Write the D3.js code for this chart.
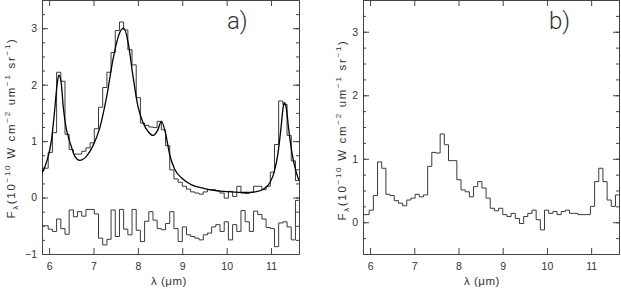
<!DOCTYPE html>
<html>
<head>
<meta charset="utf-8">
<script src="https://cdn.jsdelivr.net/npm/d3@7"></script>
<style>
  html, body { margin: 0; padding: 0; background: #fff; }
  svg { display: block; }
</style>
</head>
<body>
<div id="chart-container"></div>
<script>
// bin centres of the spectrum (micron)
const wavelength = [
  5.933, 6.027, 6.122, 6.216, 6.311, 6.405, 6.499, 6.594, 6.688, 6.783,
  6.877, 6.971, 7.066, 7.160, 7.255, 7.349, 7.443, 7.538, 7.632, 7.727,
  7.821, 7.915, 8.010, 8.104, 8.199, 8.293, 8.387, 8.482, 8.576, 8.671,
  8.765, 8.859, 8.954, 9.048, 9.143, 9.237, 9.331, 9.426, 9.520, 9.615,
  9.709, 9.803, 9.898, 9.992, 10.087, 10.181, 10.275, 10.370, 10.464, 10.559,
  10.653, 10.747, 10.842, 10.936, 11.031, 11.125, 11.219, 11.314, 11.408, 11.503,
  11.597,
];

// panel a: observed spectrum
const fluxA = [
  0.52, 0.80, 1.15, 2.22, 2.06, 1.12, 0.85, 0.77, 0.77, 0.82,
  0.88, 0.97, 1.22, 1.60, 1.95, 2.22, 2.57, 2.96, 3.11, 2.97,
  2.62, 2.35, 1.77, 1.32, 1.28, 1.25, 1.24, 1.35, 1.20, 0.92,
  0.49, 0.33, 0.27, 0.20, 0.15, 0.10, 0.08, 0.06, 0.10, 0.14,
  0.14, 0.12, 0.08, -0.01, 0.11, 0.02, 0.20, 0.08, 0.07, 0.09,
  0.20, 0.20, 0.14, 0.20, 0.45, 0.94, 1.71, 1.65, 1.10, 0.65,
  0.30,
];

// panel a: residuals (shifted below zero)
const residualA = [
  -0.50, -0.56, -0.60, -0.38, -0.55, -0.65, -0.22, -0.34, -0.25, -0.33,
  -0.21, -0.21, -0.29, -0.72, -0.84, -0.74, -0.22, -0.69, -0.21, -0.56,
  -0.66, -0.21, -0.58, -0.78, -0.42, -0.25, -0.40, -0.55, -0.57, -0.46,
  -0.25, -0.55, -0.78, -0.52, -0.66, -0.69, -0.72, -0.75, -0.66, -0.63,
  -0.52, -0.48, -0.60, -0.43, -0.75, -0.48, -0.60, -0.23, -0.43, -0.60,
  -0.24, -0.30, -0.38, -0.53, -0.55, -0.87, -0.45, -0.43, -0.52, -0.75,
  -0.05,
];

// panel a: fitted model
const modelWavelength = [
  5.84, 5.95, 6.05, 6.12, 6.18, 6.22, 6.27, 6.32, 6.38, 6.45,
  6.51, 6.58, 6.69, 6.84, 6.99, 7.14, 7.30, 7.44, 7.59, 7.68,
  7.78, 7.89, 8.00, 8.12, 8.23, 8.34, 8.45, 8.53, 8.62, 8.72,
  8.83, 8.98, 9.20, 9.50, 9.80, 10.10, 10.40, 10.65, 10.85, 10.98,
  11.07, 11.15, 11.22, 11.27, 11.30, 11.34, 11.40, 11.47, 11.55, 11.63,
];
const modelFluxA = [
  0.43, 0.65, 1.00, 1.50, 2.00, 2.17, 2.05, 1.60, 1.25, 1.03,
  0.88, 0.73, 0.66, 0.73, 0.92, 1.23, 1.80, 2.45, 2.92, 3.00,
  2.75, 2.15, 1.62, 1.32, 1.17, 1.10, 1.20, 1.35, 1.15, 0.75,
  0.50, 0.35, 0.23, 0.16, 0.12, 0.10, 0.09, 0.10, 0.16, 0.27,
  0.45, 0.75, 1.20, 1.58, 1.68, 1.60, 1.20, 0.80, 0.50, 0.30,
];

// panel b: observed spectrum
const fluxB = [
  0.12, 0.19, 0.42, 0.95, 0.85, 0.44, 0.42, 0.34, 0.30, 0.26,
  0.35, 0.38, 0.44, 0.40, 0.43, 0.88, 1.10, 1.09, 1.39, 1.22,
  0.97, 0.97, 0.67, 0.51, 0.48, 0.40, 0.56, 0.64, 0.54, 0.38,
  0.22, 0.18, 0.22, 0.12, 0.09, 0.14, 0.06, -0.02, 0.09, 0.14,
  0.19, 0.04, -0.12, 0.19, 0.14, 0.17, 0.12, 0.17, 0.19, 0.14,
  0.14, 0.12, 0.12, 0.12, 0.25, 0.64, 0.85, 0.64, 0.35, 0.25,
  0.43,
];

const xDomain = [5.84, 11.63];
const xTicks = [6, 7, 8, 9, 10, 11];
const yTicksA = [-1, 0, 1, 2, 3];
const yTicksB = [0, 1, 2, 3];

const font = "'Liberation Sans', Arial, Helvetica, sans-serif";
const axisColor = "#444";
const textColor = "#333";

const svg = d3
  .select("#chart-container")
  .append("svg")
  .attr("width", 621)
  .attr("height", 289)
  .style("background-color", "#fff");

function styleAxis(g) {
  g.selectAll("path, line").attr("stroke", axisColor);
  g.selectAll("text")
    .attr("fill", textColor)
    .attr("font-size", 10.5)
    .attr("font-family", font);
}

function fluxLabel(g, tx, ty) {
  const parts = [
    ["F", "base"], ["λ", "sub"], ["(10", "base"], ["−10", "sup"],
    [" W cm", "base"], ["−2", "sup"], [" um", "base"], ["−1", "sup"],
    [" sr", "base"], ["−1", "sup"], [")", "base"],
  ];
  const shift = { base: 0, sub: 3, sup: -5 };
  const text = g
    .append("text")
    .attr("transform", `translate(${tx},${ty}) rotate(-90)`)
    .attr("text-anchor", "middle")
    .attr("font-family", font)
    .attr("font-size", 11.5)
    .attr("letter-spacing", 1.7)
    .attr("fill", textColor);
  let current = 0;
  parts.forEach(([s, kind]) => {
    text
      .append("tspan")
      .attr("dy", shift[kind] - current)
      .attr("font-size", kind === "base" ? 11.5 : 8)
      .text(s);
    current = shift[kind];
  });
}

function drawPanel(cfg) {
  const x = d3.scaleLinear().domain(xDomain).range([cfg.left, cfg.right]);
  const y = d3.scaleLinear().domain(cfg.yDomain).range([cfg.bottom, cfg.top]);
  const g = svg.append("g");

  g.append("clipPath")
    .attr("id", cfg.id)
    .append("rect")
    .attr("x", cfg.left)
    .attr("y", cfg.top)
    .attr("width", cfg.right - cfg.left)
    .attr("height", cfg.bottom - cfg.top);

  const minorTicks = d3.range(cfg.yDomain[0], cfg.yDomain[1] + 0.001, 0.25);

  // bottom axis with labels, ticks pointing inward
  const xAxis = g
    .append("g")
    .attr("transform", `translate(0,${cfg.bottom})`)
    .call(d3.axisBottom(x).tickValues(xTicks).tickSizeInner(-6).tickSizeOuter(0).tickPadding(9).tickFormat(d3.format("d")));
  styleAxis(xAxis);

  const xTop = g
    .append("g")
    .attr("transform", `translate(0,${cfg.top})`)
    .call(d3.axisTop(x).tickValues(xTicks).tickSizeInner(-6).tickSizeOuter(0).tickFormat(""));
  styleAxis(xTop);

  const yAxis = g
    .append("g")
    .attr("transform", `translate(${cfg.left},0)`)
    .call(d3.axisLeft(y).tickValues(cfg.yTicks).tickSizeInner(-6).tickSizeOuter(0).tickPadding(5).tickFormat(d3.format("d")));
  styleAxis(yAxis);

  const yMinor = g
    .append("g")
    .attr("transform", `translate(${cfg.left},0)`)
    .call(d3.axisLeft(y).tickValues(minorTicks).tickSizeInner(-3).tickSizeOuter(0).tickFormat(""));
  styleAxis(yMinor);

  const yRight = g
    .append("g")
    .attr("transform", `translate(${cfg.right},0)`)
    .call(d3.axisRight(y).tickValues(cfg.yTicks).tickSizeInner(-6).tickSizeOuter(0).tickFormat(""));
  styleAxis(yRight);

  const yRightMinor = g
    .append("g")
    .attr("transform", `translate(${cfg.right},0)`)
    .call(d3.axisRight(y).tickValues(minorTicks).tickSizeInner(-3).tickSizeOuter(0).tickFormat(""));
  styleAxis(yRightMinor);

  const plot = g.append("g").attr("clip-path", `url(#${cfg.id})`);

  const step = d3
    .line()
    .x((d) => x(d[0]))
    .y((d) => y(d[1]))
    .curve(d3.curveStep);

  cfg.steps.forEach((values) => {
    const pts = wavelength.map((w, i) => [w, values[i]]);
    pts.unshift([xDomain[0], values[0]]);
    pts.push([xDomain[1], values[values.length - 1]]);
    plot
      .append("path")
      .datum(pts)
      .attr("fill", "none")
      .attr("stroke", "#3a3a3a")
      .attr("stroke-width", 1)
      .attr("d", step);
  });

  if (cfg.model) {
    const smooth = d3
      .line()
      .x((d, i) => x(modelWavelength[i]))
      .y((d) => y(d))
      .curve(d3.curveMonotoneX);
    plot
      .append("path")
      .datum(cfg.model)
      .attr("fill", "none")
      .attr("stroke", "#000")
      .attr("stroke-width", 1.3)
      .attr("d", smooth);
  }

  // x title
  const xt = g
    .append("text")
    .attr("x", cfg.xTitleX)
    .attr("y", 285)
    .attr("text-anchor", "middle")
    .attr("font-family", font)
    .attr("font-size", 11.5)
    .attr("letter-spacing", 0.5)
    .attr("fill", textColor);
  xt.append("tspan").text("λ (");
  xt.append("tspan").text("μm");
  xt.append("tspan").text(")");

  fluxLabel(g, cfg.yTitleX, cfg.yTitleY);

  g.append("text")
    .attr("x", cfg.labelX)
    .attr("y", 29)
    .attr("font-family", "Roboto, Lato, 'Open Sans', sans-serif")
    .attr("font-weight", 300)
    .attr("font-size", 24)
    .attr("fill", textColor)
    .text(cfg.label);
}

drawPanel({
  id: "clip-a",
  left: 42,
  right: 299,
  top: 0,
  bottom: 254,
  yDomain: [-1, 3.5],
  yTicks: yTicksA,
  steps: [fluxA, residualA],
  model: modelFluxA,
  xTitleX: 169,
  yTitleX: 15,
  yTitleY: 128,
  label: "a)",
  labelX: 227,
});

drawPanel({
  id: "clip-b",
  left: 363,
  right: 619,
  top: 0,
  bottom: 254,
  yDomain: [-0.5, 3.5],
  yTicks: yTicksB,
  steps: [fluxB],
  model: null,
  xTitleX: 482,
  yTitleX: 346,
  yTitleY: 130,
  label: "b)",
  labelX: 549,
});
</script>
</body>
</html>
